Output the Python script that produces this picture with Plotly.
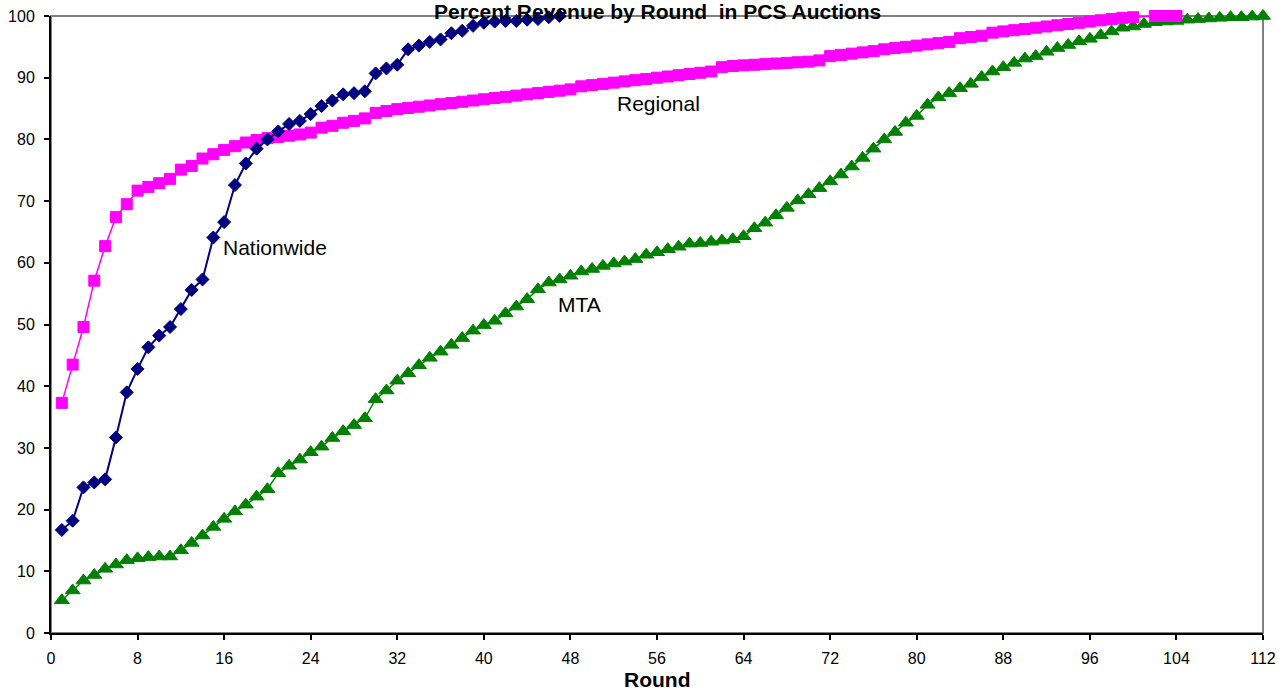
import plotly.graph_objects as go

# ---------------- data ----------------
nationwide_rounds = list(range(1, 48))
nationwide_pct = [16.7, 18.2, 23.6, 24.4, 24.9, 31.7, 39.0, 42.8, 46.3, 48.2,
                  49.6, 52.5, 55.6, 57.3, 64.1, 66.6, 72.6, 76.1, 78.5, 80.0,
                  81.3, 82.5, 83.0, 84.1, 85.4, 86.3, 87.3, 87.5, 87.8, 90.7,
                  91.5, 92.1, 94.6, 95.2, 95.8, 96.2, 97.2, 97.6, 98.4, 98.9,
                  99.1, 99.2, 99.2, 99.4, 99.5, 99.8, 100.0]

regional_rounds = list(range(1, 105))
regional_pct = [37.3, 43.5, 49.6, 57.1, 62.7, 67.4, 69.5, 71.7, 72.3, 72.9,
                73.6, 75.1, 75.7, 76.9, 77.6, 78.3, 78.9, 79.5, 79.9, 80.2,
                80.4, 80.6, 80.8, 81.1, 81.9, 82.2, 82.7, 83.0, 83.4, 84.3,
                84.6, 84.9, 85.1, 85.3, 85.5, 85.7, 85.9, 86.1, 86.3, 86.5,
                86.7, 86.9, 87.1, 87.3, 87.5, 87.7, 87.9, 88.1, 88.6, 88.8,
                89.0, 89.2, 89.4, 89.6, 89.8, 90.0, 90.2, 90.4, 90.6, 90.8,
                91.0, 91.7, 91.9, 92.0, 92.1, 92.2, 92.3, 92.4, 92.5, 92.6,
                92.8, 93.5, 93.7, 93.9, 94.1, 94.3, 94.6, 94.8, 95.0, 95.2,
                95.4, 95.6, 95.8, 96.4, 96.6, 96.8, 97.3, 97.5, 97.7, 97.9,
                98.1, 98.3, 98.5, 98.7, 98.9, 99.1, 99.3, 99.5, 99.7, 99.8,
                None, 100.0, 100.0, 100.0]

mta_rounds = list(range(1, 113))
mta_pct = [5.3, 6.9, 8.5, 9.4, 10.4, 11.1, 11.8, 12.1, 12.3, 12.4,
           12.4, 13.4, 14.6, 15.8, 17.2, 18.5, 19.7, 20.8, 22.1, 23.3,
           25.9, 27.1, 28.1, 29.3, 30.2, 31.6, 32.7, 33.7, 34.8, 37.9,
           39.3, 40.9, 42.1, 43.4, 44.6, 45.6, 46.7, 47.8, 49.0, 49.9,
           50.6, 51.8, 52.9, 54.1, 55.7, 56.8, 57.3, 57.9, 58.6, 59.0,
           59.5, 59.9, 60.2, 60.6, 61.3, 61.7, 62.2, 62.6, 63.1, 63.2,
           63.4, 63.6, 63.8, 64.3, 65.6, 66.5, 67.7, 68.9, 70.1, 71.1,
           72.1, 73.2, 74.3, 75.6, 77.0, 78.5, 80.0, 81.2, 82.7, 83.8,
           85.6, 86.8, 87.5, 88.3, 89.0, 90.1, 91.0, 91.7, 92.4, 93.1,
           93.5, 94.2, 94.8, 95.3, 95.9, 96.3, 96.9, 97.5, 98.1, 98.3,
           98.7, 99.0, 99.1, 99.2, 99.4, 99.5, 99.6, 99.7, 99.8, 99.8,
           99.9, 100.0]

x_ticks = [0, 8, 16, 24, 32, 40, 48, 56, 64, 72, 80, 88, 96, 104, 112]
y_ticks = [0, 10, 20, 30, 40, 50, 60, 70, 80, 90, 100]

title_text = "Percent Revenue by Round  in PCS Auctions"
x_title = "Round"
labels = [("Nationwide", 15.7, 62.4), ("Regional", 52.1, 85.9), ("MTA", 46.7, 53.3)]

# ---------------- figure ----------------
FONT = "Arial, 'Liberation Sans', sans-serif"
fig = go.Figure()

fig.add_trace(go.Scatter(
    x=mta_rounds, y=mta_pct, mode="lines+markers", name="MTA",
    line=dict(color="#008000", width=1.5),
    marker=dict(symbol="triangle-up", size=13, color="#008000",
                line=dict(color="#008000", width=1)),
    cliponaxis=False))

fig.add_trace(go.Scatter(
    x=regional_rounds, y=regional_pct, mode="lines+markers", name="Regional",
    connectgaps=True,
    line=dict(color="#FF00FF", width=1.5),
    marker=dict(symbol="square", size=11, color="#FF00FF",
                line=dict(color="#FF00FF", width=1)),
    cliponaxis=False))

fig.add_trace(go.Scatter(
    x=nationwide_rounds, y=nationwide_pct, mode="lines+markers", name="Nationwide",
    line=dict(color="#000080", width=2),
    marker=dict(symbol="diamond", size=10, color="#000080",
                line=dict(color="#000080", width=1)),
    cliponaxis=False))

# gray frame (top / right)
fig.add_shape(type="rect", xref="paper", yref="paper", x0=0, x1=1, y0=0, y1=1,
              line=dict(color="#808080", width=2), layer="below")

for txt, xv, yv in labels:
    fig.add_annotation(x=xv, y=yv, xref="x", yref="y", text=txt, showarrow=False,
                       xanchor="left", yanchor="middle",
                       font=dict(family=FONT, size=21, color="black"))

fig.add_annotation(x=0.5, y=1.0065, xref="paper", yref="paper", text="<b>%s</b>" % title_text,
                   showarrow=False, xanchor="center", yanchor="middle",
                   font=dict(family=FONT, size=21, color="black"))
fig.add_annotation(x=0.5, y=-0.0752, xref="paper", yref="paper", text="<b>%s</b>" % x_title,
                   showarrow=False, xanchor="center", yanchor="middle",
                   font=dict(family=FONT, size=21, color="black"))

fig.update_layout(
    width=1281, height=692,
    margin=dict(l=51, r=18, t=16, b=59, autoexpand=False),
    paper_bgcolor="white", plot_bgcolor="white",
    showlegend=False,
    font=dict(family=FONT, size=16, color="black"),
    xaxis=dict(range=[0, 112], tickmode="array", tickvals=x_ticks,
               ticktext=[str(v) for v in x_ticks],
               showgrid=False, zeroline=False, showline=True, linecolor="black",
               linewidth=2, ticks="outside", ticklen=5, tickwidth=1.5, tickcolor="black",
               ticklabelstandoff=5,
               tickfont=dict(family=FONT, size=16, color="black")),
    xaxis2=dict(range=[0, 112], overlaying="x", anchor="y", side="bottom",
                tickmode="array", tickvals=x_ticks, showticklabels=False,
                showgrid=False, zeroline=False, showline=False,
                ticks="inside", ticklen=5, tickwidth=1.5, tickcolor="black"),
    yaxis=dict(range=[0, 100], tickmode="array", tickvals=y_ticks,
               ticktext=[str(v) for v in y_ticks],
               showgrid=False, zeroline=False, showline=True, linecolor="black",
               linewidth=2, ticks="outside", ticklen=5, tickwidth=1.5, tickcolor="black",
               ticklabelstandoff=6,
               tickfont=dict(family=FONT, size=16, color="black")),
)

fig.write_html("out.html")
